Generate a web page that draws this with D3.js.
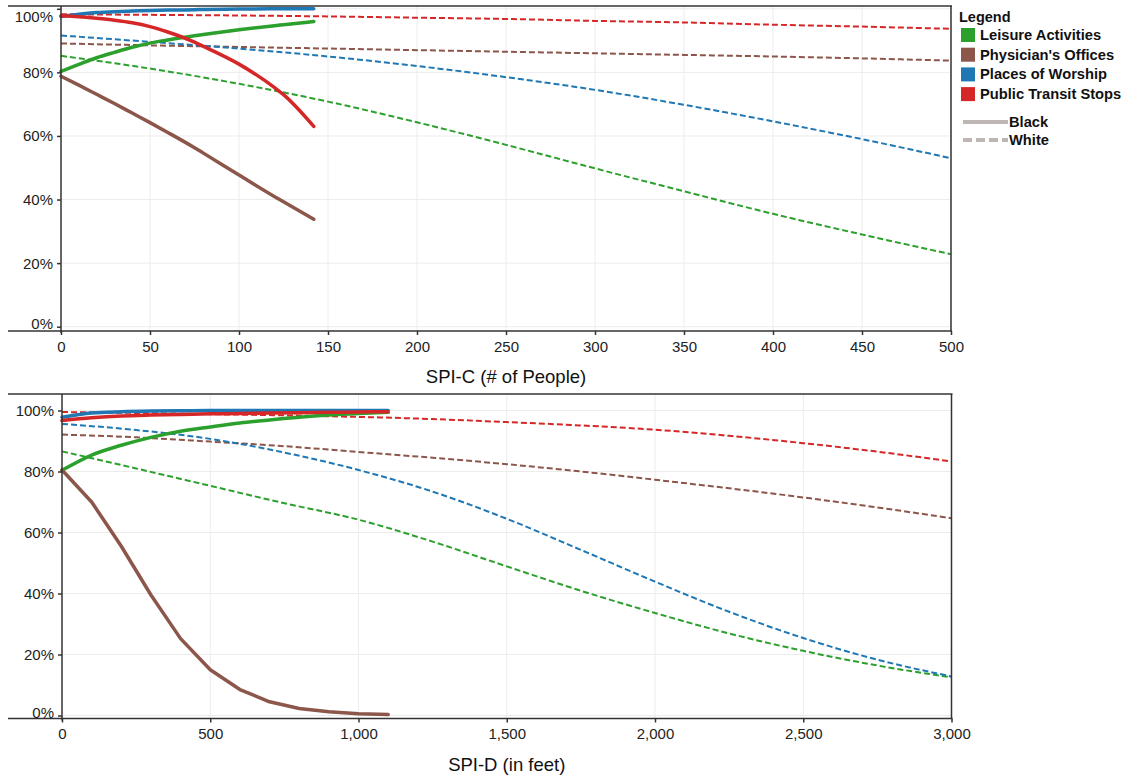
<!DOCTYPE html>
<html><head><meta charset="utf-8">
<script src="https://cdn.jsdelivr.net/npm/d3@7/dist/d3.min.js"></script>
<style>
body{margin:0;background:#fff;}
svg{display:block;font-family:"Liberation Sans",Arial,sans-serif;}
</style></head>
<body><svg id="c" width="1128" height="775"></svg>
<script>
// ---- data ----
const categories = ["Leisure Activities","Physician's Offices","Places of Worship","Public Transit Stops"];
const colors = ["#2ca02c","#8c564b","#1f77b4","#d62728"];
const races = ["Black","White"];
const yTicks = [0,20,40,60,80,100];
const xTicksC = [0,50,100,150,200,250,300,350,400,450,500];
const xTicksD = [0,500,1000,1500,2000,2500,3000];

// SPI-C (# of people) — Black (solid)
const cBlackX = [0,10,20,30,40,50,60,75,80,100,120,125,142];
const cBlackLeisure   = [80.3,82.5,84.6,86.3,87.9,89.2,90.2,91.5,91.9,93.4,94.7,95.0,96.0];
const cBlackPhysician = [78.8,76.0,73.1,70.2,67.2,64.2,61.1,56.3,54.6,47.7,40.9,39.3,33.8];
const cBlackWorship   = [97.6,98.3,98.8,99.1,99.3,99.5,99.6,99.7,99.8,99.9,100,100,100];
const cBlackTransit   = [97.8,97.5,97.0,96.4,95.6,94.4,92.7,89.5,88.2,82.6,75.2,73.0,63.0];
// SPI-C — White (dashed)
const cWhiteX = [0,50,100,150,200,250,300,350,400,450,500];
const cWhiteLeisure   = [85.2,81.2,76.4,70.8,64.3,57.2,49.8,42.6,35.5,29.0,22.8];
const cWhitePhysician = [89.1,88.5,88.0,87.5,87.0,86.5,86.0,85.5,85.0,84.4,83.7];
const cWhiteWorship   = [91.6,89.6,87.5,85.0,82.0,78.5,74.5,69.8,64.6,59.0,53.0];
const cWhiteTransit   = [98.3,98.1,97.9,97.6,97.2,96.8,96.2,95.7,95.0,94.4,93.7];

// SPI-D (in feet) — Black (solid)
const dBlackX = [0,100,200,300,400,500,600,700,800,900,1000,1100];
const dBlackLeisure   = [80.4,85.4,88.6,91.2,93.2,94.6,95.9,96.9,97.8,98.5,99.0,99.4];
const dBlackPhysician = [80.5,70.0,55.5,39.5,25.2,15.0,8.5,4.5,2.3,1.2,0.6,0.3];
const dBlackWorship   = [97.8,99.2,99.6,99.8,99.9,100,100,100,100,100,100,100];
const dBlackTransit   = [96.7,97.6,98.2,98.5,98.7,98.9,99.0,99.2,99.3,99.4,99.5,99.6];
// SPI-D — White (dashed)
const dWhiteX = [0,250,500,750,1000,1250,1500,1750,2000,2250,2500,2750,3000];
const dWhiteLeisure   = [86.6,81.0,75.3,69.6,64.2,57.0,48.9,40.9,33.6,26.9,21.2,16.4,12.5];
const dWhitePhysician = [92.1,91.2,89.8,88.3,86.4,84.5,82.4,80.0,77.3,74.5,71.5,68.2,64.7];
const dWhiteWorship   = [95.6,93.6,90.7,86.2,80.5,73.4,64.5,54.3,43.9,34.0,25.4,18.3,12.8];
const dWhiteTransit   = [99.5,99.2,98.8,98.4,97.9,97.2,96.2,95.1,93.7,91.7,89.3,86.5,83.3];

const svg = d3.select("#c");
const fmtD = d3.format(",");

function panel(o){
  const x = d3.scaleLinear().domain(o.xDomain).range([o.left,o.right]);
  const y = d3.scaleLinear().domain([0,100]).range([o.y0,o.y100]);
  const g = svg.append("g");
  // grid
  g.append("g").selectAll("line").data(yTicks).join("line")
    .attr("x1",o.left).attr("x2",o.right).attr("y1",d=>y(d)).attr("y2",d=>y(d))
    .attr("stroke","#ececec").attr("stroke-width",1);
  g.append("g").selectAll("line").data(o.xTicks.slice(1)).join("line")
    .attr("x1",d=>x(d)).attr("x2",d=>x(d)).attr("y1",o.top).attr("y2",o.bottom)
    .attr("stroke","#ececec").attr("stroke-width",1);
  // lines
  const mk = (xs, curve) => d3.line().x((d,i)=>x(xs[i])).y(d=>y(d)).curve(curve);
  o.white.forEach((vals,i)=>{
    g.append("path").attr("d",mk(o.whiteX,d3.curveMonotoneX)(vals))
      .attr("fill","none").attr("stroke",colors[i]).attr("stroke-width",2)
      .attr("stroke-dasharray","6,3");
  });
  o.black.forEach((vals,i)=>{
    g.append("path").attr("d",mk(o.blackX, (o.linearBrown && i===1)?d3.curveLinear:d3.curveMonotoneX)(vals))
      .attr("fill","none").attr("stroke",colors[i]).attr("stroke-width",3.5)
      .attr("stroke-linejoin","round").attr("stroke-linecap","round");
  });
  // frame
  const ax = "#333";
  g.append("line").attr("x1",8).attr("x2",o.right+1).attr("y1",o.top).attr("y2",o.top).attr("stroke",ax).attr("stroke-width",1.5);
  g.append("line").attr("x1",8).attr("x2",o.right+1).attr("y1",o.bottom).attr("y2",o.bottom).attr("stroke",ax).attr("stroke-width",1.5);
  g.append("line").attr("x1",o.right).attr("x2",o.right).attr("y1",o.top).attr("y2",o.bottom).attr("stroke",ax).attr("stroke-width",1.5);
  g.append("line").attr("x1",o.left).attr("x2",o.left).attr("y1",o.top).attr("y2",o.bottom+2).attr("stroke",ax).attr("stroke-width",1.5);
  // x axis
  const xa = d3.axisBottom(x).tickValues(o.xTicks).tickSize(4).tickPadding(6).tickFormat(o.fmt);
  const xg = g.append("g").attr("transform",`translate(0,${o.bottom})`).call(xa);
  xg.select(".domain").remove();
  xg.selectAll(".tick line").attr("stroke",ax).attr("stroke-width",1.5);
  xg.selectAll(".tick text").attr("font-size",15).attr("fill","#222")
    .attr("font-family","'Liberation Sans',Arial,sans-serif");
  // y axis
  const ya = d3.axisLeft(y).tickValues(yTicks).tickSize(4).tickPadding(4).tickFormat(d=>d+"%");
  const yg = g.append("g").attr("transform",`translate(${o.left},0)`).call(ya);
  yg.select(".domain").remove();
  yg.selectAll(".tick line").attr("stroke",ax).attr("stroke-width",1.5);
  yg.selectAll(".tick text").attr("font-size",15).attr("fill","#222")
    .attr("font-family","'Liberation Sans',Arial,sans-serif")
    .attr("dy", d => (y(d) - o.top < 10 ? (o.top + 10 - y(d)) + 5 : (d===0 ? 2 : 5)) + "px");
  // title
  g.append("text").attr("x",(o.left+o.right)/2).attr("y",o.titleY)
    .attr("text-anchor","middle").attr("font-size",18.5).attr("fill","#111").text(o.title);
}

panel({xDomain:[0,500], left:61, right:951, top:6, bottom:331, y0:326.7, y100:8.8,
  xTicks:xTicksC, fmt:d=>d, titleY:383, title:"SPI-C (# of People)", linearBrown:false,
  whiteX:cWhiteX, white:[cWhiteLeisure,cWhitePhysician,cWhiteWorship,cWhiteTransit],
  blackX:cBlackX, black:[cBlackLeisure,cBlackPhysician,cBlackWorship,cBlackTransit]});
panel({xDomain:[0,3000], left:62, right:951.5, top:394, bottom:718.5, y0:715.5, y100:410.5,
  xTicks:xTicksD, fmt:fmtD, titleY:771, title:"SPI-D (in feet)", linearBrown:true,
  whiteX:dWhiteX, white:[dWhiteLeisure,dWhitePhysician,dWhiteWorship,dWhiteTransit],
  blackX:dBlackX, black:[dBlackLeisure,dBlackPhysician,dBlackWorship,dBlackTransit]});

// legend
const lg = svg.append("g").attr("font-family","'Liberation Sans',Arial,sans-serif").attr("font-weight","bold");
lg.append("text").attr("x",959).attr("y",22).attr("font-size",14.5).attr("fill","#111").text("Legend");
const it = lg.selectAll("g.it").data(categories).join("g").attr("class","it")
  .attr("transform",(d,i)=>`translate(0,${35+i*19.7})`);
it.append("rect").attr("x",961).attr("y",-7).attr("width",14).attr("height",14).attr("fill",(d,i)=>colors[i]);
it.append("text").attr("x",980).attr("y",5).attr("font-size",14.7).attr("fill","#111").text(d=>d);
const rl = lg.selectAll("g.rl").data(races).join("g").attr("class","rl")
  .attr("transform",(d,i)=>`translate(0,${122+i*18})`);
rl.append("line").attr("x1",963).attr("x2",1008).attr("y1",0).attr("y2",0)
  .attr("stroke","#bdb6b2").attr("stroke-width",4)
  .attr("stroke-dasharray",(d,i)=>i?"9,4":null);
rl.append("text").attr("x",1009).attr("y",5).attr("font-size",14.7).attr("fill","#111").text(d=>d);
</script></body></html>
